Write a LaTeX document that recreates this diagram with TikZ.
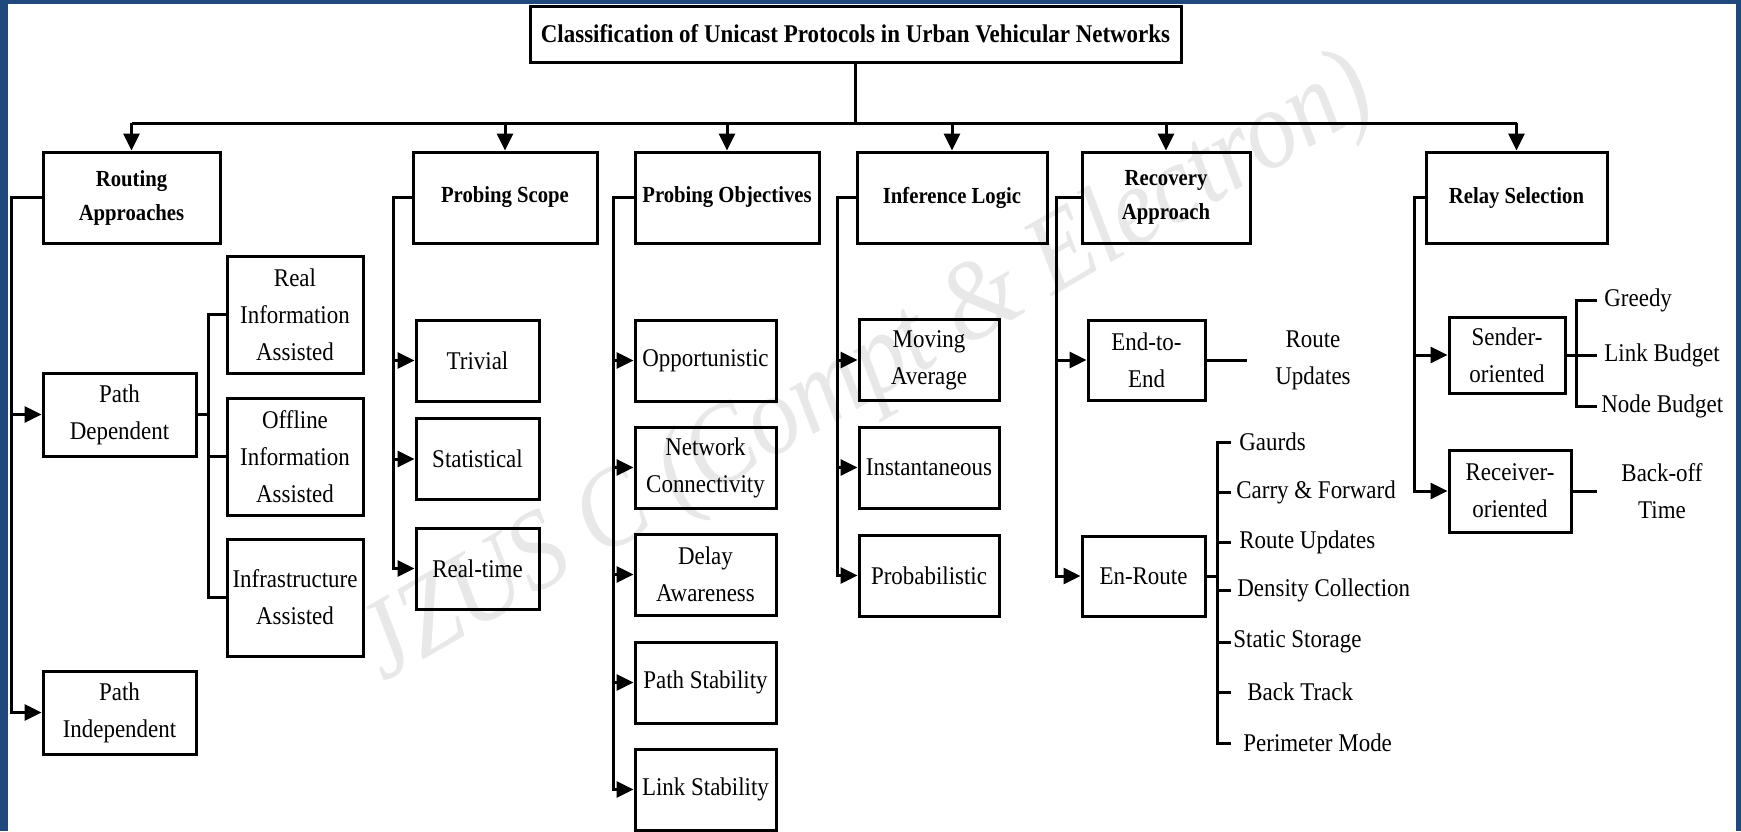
\documentclass[tikz,border=0pt]{standalone}
\usepackage{fontspec}
\setmainfont{Liberation Serif}[FakeStretch=0.9]
\usetikzlibrary{arrows.meta}
\definecolor{bluebd}{RGB}{31,73,125}
\begin{document}
\begin{tikzpicture}[x=0.5pt,y=-0.5pt,
  ln/.style={line width=1.5pt},
  arr/.style={ln,-{Triangle[length=8.5pt,width=8pt]}},
  box/.style={draw,line width=1.5pt,inner sep=0pt,align=center,font=\fontsize{12.75}{18.5}\selectfont},
  hbox/.style={box,minimum height=45.5pt,font=\bfseries\fontsize{11.5}{17}\selectfont},
  tbox/.style={box,font=\bfseries\fontsize{12.75}{15}\selectfont},
  rabox/.style={box,minimum width=76.5pt,minimum height=41.5pt},
  ribox/.style={box,minimum width=68pt,minimum height=58.5pt},
  psbox/.style={box,minimum width=61.5pt,minimum height=40.5pt},
  pobox/.style={box,minimum width=70.5pt,minimum height=40.5pt},
  ilbox/.style={box,minimum width=70pt,minimum height=40.5pt},
  lbl/.style={inner ysep=0pt,align=center,font=\fontsize{12.75}{18.5}\selectfont},
  wmark/.style={rotate=30,text=black!9,font=\itshape\fontsize{56}{56}\selectfont}
]
\useasboundingbox (0,0) rectangle (1741,831);
\fill[bluebd] (0,0) rectangle (1741,831);
\fill[white] (8,4) rectangle (1736,831);

% watermark
\node[wmark] (wm) at (868,372) {JZUS C (Compt \& Electron)};

% title
\node[tbox,minimum width=325.5pt,minimum height=28pt] (title) at (855.5,34) {Classification of Unicast Protocols in Urban Vehicular Networks};

% level 1
\node[hbox,minimum width=88.5pt] (ra) at (131.5,197.5) {Routing\\Approaches};
\node[hbox,minimum width=92pt] (ps) at (505,197.5) {Probing Scope};
\node[hbox,minimum width=92pt] (po) at (727,197.5) {Probing Objectives};
\node[hbox,minimum width=95pt] (il) at (952,197.5) {Inference Logic};
\node[hbox,minimum width=84pt] (rc) at (1166,197.5) {Recovery\\Approach};
\node[hbox,minimum width=90.5pt] (rs) at (1516.5,197.5) {Relay Selection};

\coordinate (busY) at (0,123);
\draw[ln] (title.south) -- (title.south |- busY);
\draw[ln] (ra.north |- busY) -- (rs.north |- busY);
\foreach \n in {ra,ps,po,il,rc,rs} \draw[arr] (\n.north |- busY) -- (\n.north);

% routing approaches
\node[rabox] (pd) at (119.5,414.5) {Path\\Dependent};
\node[rabox] (pi) at (119.5,712.5) {Path\\Independent};
\node[ribox] (ri) at (295,314.5) {Real\\Information\\Assisted};
\node[ribox] (oi) at (295,456.5) {Offline\\Information\\Assisted};
\node[ribox] (ia) at (295,597.5) {Infrastructure\\Assisted};
\coordinate (raT) at (11,198);
\draw[arr] (ra.west) -- (raT |- ra.west) -- (raT |- pi.west) -- (pi.west);
\draw[arr] (raT |- pd.west) -- (pd.west);
\coordinate (pdB) at (208,415);
\draw[ln] (pd.east) -- (pdB |- pd.east);
\draw[ln] (ri.west) -- (pdB |- ri.west) -- (pdB |- ia.west) -- (ia.west);
\draw[ln] (pdB |- oi.west) -- (oi.west);

% probing scope
\node[psbox] (tr) at (477.5,360.5) {Trivial};
\node[psbox] (st) at (477.5,459) {Statistical};
\node[psbox] (rt) at (477.5,568.5) {Real-time};
\coordinate (psT) at (393,198);
\draw[arr] (ps.west) -- (psT |- ps.west) -- (psT |- rt.west) -- (rt.west);
\foreach \n in {tr,st} \draw[arr] (psT |- \n.west) -- (\n.west);

% probing objectives
\node[pobox] (op) at (705.5,360.5) {Opportunistic};
\node[pobox] (nc) at (705.5,467.5) {Network\\Connectivity};
\node[pobox] (da) at (705.5,574.5) {Delay\\Awareness};
\node[pobox] (pst) at (705.5,682.5) {Path Stability};
\node[pobox] (lst) at (705.5,789.5) {Link Stability};
\coordinate (poT) at (613,198);
\draw[arr] (po.west) -- (poT |- po.west) -- (poT |- lst.west) -- (lst.west);
\foreach \n in {op,nc,da,pst} \draw[arr] (poT |- \n.west) -- (\n.west);

% inference logic
\node[ilbox] (ma) at (929,360) {Moving\\Average};
\node[ilbox] (in) at (929,467.5) {Instantaneous};
\node[ilbox] (pb) at (929,575.5) {Probabilistic};
\coordinate (ilT) at (837,198);
\draw[arr] (il.west) -- (ilT |- il.west) -- (ilT |- pb.west) -- (pb.west);
\foreach \n in {ma,in} \draw[arr] (ilT |- \n.west) -- (\n.west);

% recovery approach
\node[box,minimum width=58.5pt,minimum height=40pt] (ee) at (1146.5,360) {End-to-\\End};
\node[box,minimum width=61.5pt,minimum height=40pt] (er) at (1143.5,576) {En-Route};
\coordinate (rcT) at (1056,198);
\draw[arr] (rc.west) -- (rcT |- rc.west) -- (rcT |- er.west) -- (er.west);
\draw[arr] (rcT |- ee.west) -- (ee.west);
\node[lbl,inner xsep=14pt] (ru) at (1313,360) {Route\\Updates};
\draw[ln] (ee.east) -- (ru.west);

\node[lbl,anchor=west,inner xsep=4pt] (e1) at (1231,442) {Gaurds};
\node[lbl,anchor=west,inner xsep=2.5pt] (e2) at (1231,492) {Carry \& Forward};
\node[lbl,anchor=west,inner xsep=4pt] (e3) at (1231,542) {Route Updates};
\node[lbl,anchor=west,inner xsep=3pt] (e4) at (1231,590) {Density Collection};
\node[lbl,anchor=west,inner xsep=1pt] (e5) at (1231,642) {Static Storage};
\node[lbl,anchor=west,inner xsep=8pt] (e6) at (1231,692) {Back Track};
\node[lbl,anchor=west,inner xsep=6pt] (e7) at (1231,743) {Perimeter Mode};
\coordinate (erB) at (1217,576);
\draw[ln] (er.east) -- (erB |- er.east);
\draw[ln] (e1.west) -- (erB |- e1.west) -- (erB |- e7.west) -- (e7.west);
\foreach \n in {e2,e3,e4,e5,e6} \draw[ln] (erB |- \n.west) -- (\n.west);

% relay selection
\node[box,minimum width=58pt,minimum height=38pt] (sd) at (1507,355) {Sender-\\oriented};
\node[box,minimum width=61pt,minimum height=41pt] (rv) at (1510,491) {Receiver-\\oriented};
\coordinate (rsT) at (1414,197);
\draw[arr] (rs.west) -- (rsT |- rs.west) -- (rsT |- rv.west) -- (rv.west);
\draw[arr] (rsT |- sd.west) -- (sd.west);

\node[lbl,anchor=west,inner xsep=3.5pt] (gr) at (1597,300) {Greedy};
\node[lbl,anchor=west,inner xsep=3.5pt] (lb) at (1597,355) {Link Budget};
\node[lbl,anchor=west,inner xsep=2pt] (nb) at (1597,406) {Node Budget};
\coordinate (sdB) at (1576,355);
\draw[ln] (sd.east) -- (lb.west);
\draw[ln] (gr.west) -- (sdB |- gr.west) -- (sdB |- nb.west) -- (nb.west);

\node[lbl,inner xsep=12pt] (bo) at (1662,491) {Back-off\\Time};
\draw[ln] (rv.east) -- (bo.west);
\end{tikzpicture}
\end{document}
